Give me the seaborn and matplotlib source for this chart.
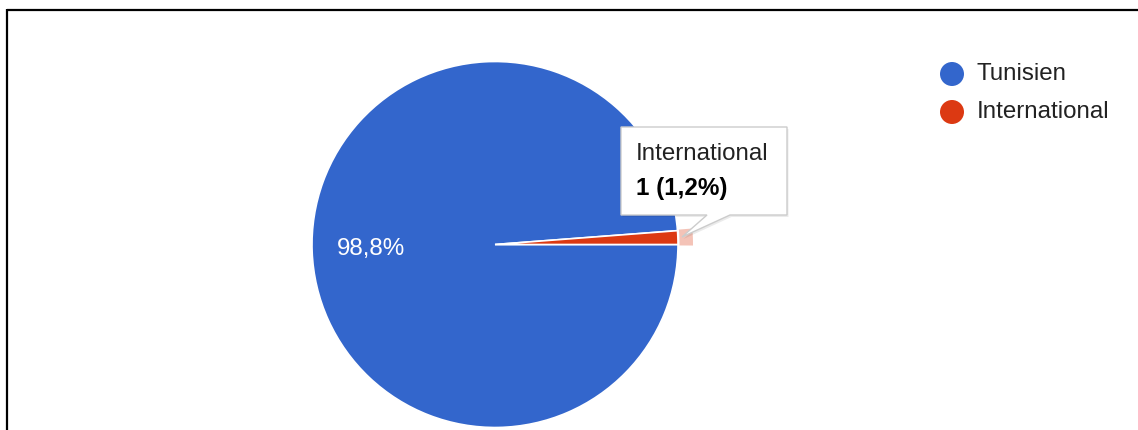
import matplotlib
matplotlib.use("Agg")
import matplotlib.pyplot as plt
from matplotlib.patches import Circle, Polygon, Wedge
import seaborn as sns

# Survey answers: nationality of respondents
categories = ["Tunisien", "International"]
counts = [82, 1]
colors = ["#3366cc", "#dc3912"]

W, H = 1138, 430
DPI = 100

sns.set_theme(style="white")
plt.rcParams["font.family"] = ["Liberation Sans", "DejaVu Sans"]

fig = plt.figure(figsize=(W / DPI, H / DPI), dpi=DPI)
ax = fig.add_axes([0, 0, 1, 1])


def Y(y):
    """Convert a top-down pixel row to the axes' bottom-up coordinate."""
    return H - y


FS = 17.4  # points
TEXT = "#222222"

total = sum(counts)


def pct_label(p):
    return f"{p:.1f}%".replace(".", ",") if p >= 5 else ""


cx, cy, R = 495, Y(244.5), 183
wedges, _, autotexts = ax.pie(
    counts,
    colors=colors,
    startangle=0,
    counterclock=False,
    radius=R,
    center=(cx, cy),
    autopct=pct_label,
    pctdistance=0.68,
    textprops=dict(color="white", fontsize=FS),
    wedgeprops=dict(edgecolor="white", linewidth=1.2),
)

# Hover highlight ring on the outer edge of the "International" slice
hi = wedges[1]
ax.add_patch(Wedge((cx, cy), R + 15, hi.theta1 - 0.3, hi.theta2 + 0.3, width=13.5,
                   facecolor=colors[1], alpha=0.3, linewidth=0))

ax.set_xlim(0, W)
ax.set_ylim(0, H)
ax.set_aspect("equal")
ax.axis("off")

# Tooltip for the highlighted slice
box_l, box_r, box_t, box_b = 621, 787, 127, 215
tip = (682, 237)
verts = [(box_l, Y(box_t)), (box_r, Y(box_t)), (box_r, Y(box_b)),
         (730, Y(box_b)), (tip[0], Y(tip[1])), (707, Y(box_b)), (box_l, Y(box_b))]
shadow = [(x + 1.5, y - 2) for x, y in verts]
ax.add_patch(Polygon(shadow, closed=True, facecolor="#000000", alpha=0.08,
                     edgecolor="none", zorder=5))
ax.add_patch(Polygon(verts, closed=True, facecolor="white", edgecolor="#cccccc",
                     linewidth=1, zorder=6))
share = counts[1] / total * 100
ax.text(636, Y(154), categories[1], fontsize=FS, color=TEXT, va="center",
        ha="left", zorder=7)
ax.text(636, Y(188), f"{counts[1]} ({share:.1f}%)".replace(".", ","),
        fontsize=FS, color="black", fontweight="bold", va="center", ha="left", zorder=7)

# Legend on the right
for i, (name, col) in enumerate(zip(categories, colors)):
    yy = Y(74 + 38 * i)
    ax.add_patch(Circle((952, yy), 12, facecolor=col, edgecolor="none"))
    ax.text(977, yy, name, fontsize=FS, color=TEXT, va="center", ha="left")

# Frame lines along the top and left edges
ax.plot([7, W], [Y(10), Y(10)], color="black", lw=1.6, solid_capstyle="butt")
ax.plot([7, 7], [Y(9.2), 0], color="black", lw=1.6, solid_capstyle="butt")

fig.savefig("out.png", dpi=DPI, facecolor="white")
